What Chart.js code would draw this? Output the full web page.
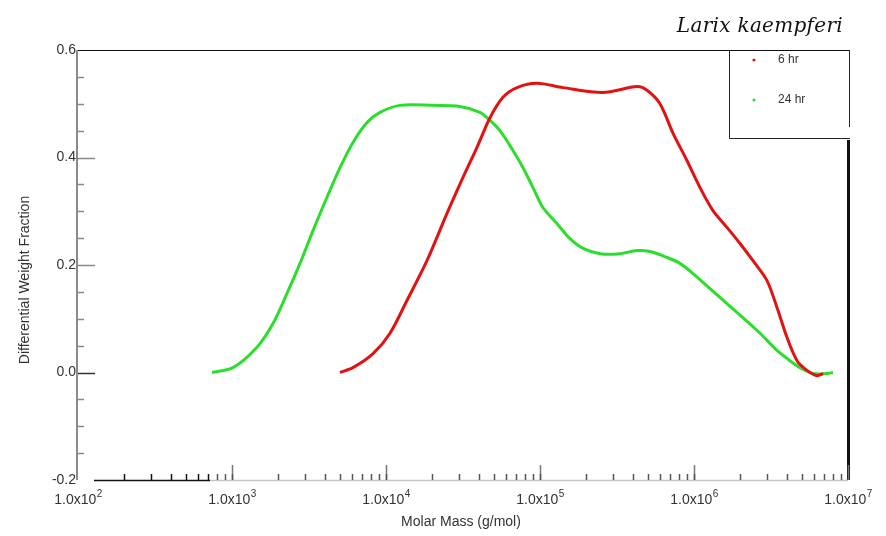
<!DOCTYPE html>
<html>
<head>
<meta charset="utf-8">
<script src="https://cdn.jsdelivr.net/npm/chart.js@4.4.1/dist/chart.umd.min.js"></script>
<style>
  html, body { margin: 0; padding: 0; background: #fff; }
  #wrap { width: 886px; height: 536px; position: relative; }
</style>
</head>
<body>
<div id="wrap"><canvas id="grafico"></canvas></div>
<script>
// molar mass (g/mol) and differential weight fraction
const massa24 = [741, 1015, 1453, 1846, 2275, 2765, 3357, 4140, 5027, 6105, 7530, 9140, 12330, 20200, 30250, 40750, 47350, 54950, 66800, 77600, 90100, 104500, 128900, 156600, 190300, 245400, 330500, 426600, 517600, 668300, 811100, 986100, 1271000, 1637000, 2080000, 2685000, 3459000, 4198000, 4875000, 5929000, 7311000, 8000000];
const fracao24 = [0.0, 0.009, 0.047, 0.091, 0.147, 0.203, 0.264, 0.326, 0.381, 0.428, 0.465, 0.484, 0.497, 0.497, 0.495, 0.484, 0.469, 0.450, 0.413, 0.381, 0.344, 0.307, 0.277, 0.249, 0.231, 0.221, 0.221, 0.227, 0.225, 0.214, 0.203, 0.184, 0.156, 0.128, 0.102, 0.073, 0.041, 0.022, 0.009, -0.002, -0.002, 0.0];

const massa6 = [5027, 6105, 8240, 10620, 13680, 18450, 24890, 31620, 38990, 47350, 57500, 70950, 95700, 141000, 256400, 426600, 495300, 601200, 731100, 901500, 1094000, 1328000, 1637000, 1990000, 2416000, 2979000, 3459000, 4018000, 4667000, 5420000, 6295000, 6887000];
const fracao6 = [0.0, 0.009, 0.035, 0.073, 0.134, 0.208, 0.296, 0.363, 0.419, 0.474, 0.512, 0.530, 0.538, 0.530, 0.521, 0.532, 0.525, 0.500, 0.445, 0.394, 0.344, 0.301, 0.270, 0.240, 0.208, 0.171, 0.121, 0.065, 0.022, 0.004, -0.006, -0.002];

const expoentesX = [2, 3, 4, 5, 6, 7];
const ticksY = [0.6, 0.4, 0.2, 0.0, -0.2];
const legendas = ['6 hr', '24 hr'];
const titulo = 'Larix kaempferi';

const corVermelha = 'rgb(226, 18, 18)';
const corVerde = 'rgb(44, 222, 44)';

function pontos(xs, ys) {
    return xs.map((x, i) => ({ x: x, y: ys[i] }));
}

// ---------- eixos, moldura e legenda desenhados à mão ----------
const moldura = {
    id: 'moldura',
    beforeDatasetsDraw(chart) {
        const { ctx, chartArea: a, scales: { x, y } } = chart;
        ctx.save();

        // topo e direita
        ctx.strokeStyle = '#111';
        ctx.lineWidth = 1;
        ctx.beginPath();
        ctx.moveTo(a.left, a.top + 0.5);
        ctx.lineTo(a.right + 2, a.top + 0.5);
        ctx.moveTo(a.right + 1.5, a.top);
        ctx.lineTo(a.right + 1.5, 127);
        ctx.stroke();
        ctx.lineWidth = 3;
        ctx.beginPath();
        ctx.moveTo(a.right + 0.5, 140);
        ctx.lineTo(a.right + 0.5, a.bottom);
        ctx.stroke();

        // eixo y
        ctx.strokeStyle = '#8a8a8a';
        ctx.lineWidth = 2;
        ctx.beginPath();
        ctx.moveTo(a.left - 1, a.top);
        ctx.lineTo(a.left - 1, a.bottom);
        ctx.stroke();
        ctx.lineWidth = 1.5;
        for (let v = -0.15; v < 0.6; v += 0.05) {
            const py = Math.round(y.getPixelForValue(v)) + 0.5;
            const major = Math.abs(Math.round(v * 100) % 20) === 0;
            ctx.strokeStyle = Math.abs(v) < 0.001 ? '#333' : '#8a8a8a';
            ctx.beginPath();
            ctx.moveTo(a.left, py);
            ctx.lineTo(a.left + (major ? 17 : 6), py);
            ctx.stroke();
        }

        // eixo x
        const yb = a.bottom + 0.5;
        ctx.lineWidth = 1.5;
        ctx.strokeStyle = '#111';
        ctx.beginPath();
        ctx.moveTo(94, yb);
        ctx.lineTo(210, yb);
        ctx.stroke();
        ctx.strokeStyle = '#c4c4c4';
        ctx.beginPath();
        ctx.moveTo(210, yb);
        ctx.lineTo(a.right, yb);
        ctx.stroke();
        ctx.lineWidth = 1.5;
        for (let e = 2; e < 7; e++) {
            for (let m = 1; m <= 10; m++) {
                if (e === 2 && m === 1) continue;
                const px = Math.round(x.getPixelForValue(m * Math.pow(10, e))) + 0.5;
                const major = m === 10;
                ctx.strokeStyle = px < 210 ? '#111' : (major ? '#777' : '#555');
                ctx.beginPath();
                ctx.moveTo(px, a.bottom);
                ctx.lineTo(px, a.bottom - (major ? 15 : 6));
                ctx.stroke();
            }
        }

        // rótulos do eixo y
        ctx.fillStyle = '#333';
        ctx.font = '14px "Liberation Sans", Arial, sans-serif';
        ctx.textAlign = 'right';
        ctx.textBaseline = 'middle';
        ticksY.forEach(v => {
            ctx.fillText(v.toFixed(1), a.left - 2, y.getPixelForValue(v));
        });

        // rótulos do eixo x com expoente
        ctx.textBaseline = 'alphabetic';
        expoentesX.forEach(e => {
            const px = x.getPixelForValue(Math.pow(10, e));
            ctx.font = '14px "Liberation Sans", Arial, sans-serif';
            const base = '1.0x10';
            const wb = ctx.measureText(base).width;
            ctx.font = '10px "Liberation Sans", Arial, sans-serif';
            const sup = String(e);
            const ws = ctx.measureText(sup).width;
            const x0 = px - (wb + ws) / 2;
            ctx.textAlign = 'left';
            ctx.font = '14px "Liberation Sans", Arial, sans-serif';
            ctx.fillText(base, x0, 504);
            ctx.font = '10px "Liberation Sans", Arial, sans-serif';
            ctx.fillText(sup, x0 + wb + 0.5, 497);
        });

        // títulos dos eixos
        ctx.font = '14px "Liberation Sans", Arial, sans-serif';
        ctx.textAlign = 'center';
        ctx.textBaseline = 'middle';
        ctx.fillText('Molar Mass (g/mol)', 461, 522);
        ctx.save();
        ctx.translate(25, 280);
        ctx.rotate(-Math.PI / 2);
        ctx.fillText('Differential Weight Fraction', 0, 0);
        ctx.restore();

        ctx.restore();
    },
    afterDraw(chart) {
        const { ctx, chartArea: a } = chart;
        ctx.save();

        // caixa da legenda
        ctx.fillStyle = '#fff';
        ctx.fillRect(729, a.top + 1, a.right - 729 + 1, 137 - a.top);
        ctx.strokeStyle = '#222';
        ctx.lineWidth = 1;
        ctx.beginPath();
        ctx.moveTo(729.5, a.top);
        ctx.lineTo(729.5, 138.5);
        ctx.lineTo(a.right + 2, 138.5);
        ctx.moveTo(a.right + 1.5, a.top);
        ctx.lineTo(a.right + 1.5, 127);
        ctx.stroke();

        const cores = [corVermelha, corVerde];
        const ys = [60, 100];
        ctx.font = '12px "Liberation Sans", Arial, sans-serif';
        ctx.textAlign = 'left';
        ctx.textBaseline = 'middle';
        legendas.forEach((t, i) => {
            ctx.fillStyle = cores[i];
            ctx.beginPath();
            ctx.arc(754, ys[i], 1.6, 0, Math.PI * 2);
            ctx.fill();
            ctx.fillStyle = '#333';
            ctx.fillText(t, 778, ys[i]);
        });

        // título
        ctx.fillStyle = '#111';
        ctx.font = 'italic 20px "DejaVu Serif", serif';
        ctx.letterSpacing = '0.3px';
        ctx.textAlign = 'right';
        ctx.textBaseline = 'alphabetic';
        ctx.fillText(titulo, 843, 32);

        ctx.restore();
    }
};

const grafico = new Chart(document.getElementById('grafico').getContext('2d'), {
    type: 'line',
    data: {
        datasets: [{
            label: legendas[0],
            data: pontos(massa6, fracao6),
            borderColor: corVermelha,
            borderWidth: 3,
            pointRadius: 0,
            tension: 0.3,
            fill: false
        }, {
            label: legendas[1],
            data: pontos(massa24, fracao24),
            borderColor: corVerde,
            borderWidth: 3,
            pointRadius: 0,
            tension: 0.3,
            fill: false
        }]
    },
    options: {
        responsive: true,
        maintainAspectRatio: false,
        animation: false,
        layout: { padding: { left: 78, right: 38, top: 50, bottom: 56 } },
        plugins: {
            legend: { display: false },
            tooltip: { enabled: false }
        },
        scales: {
            x: { type: 'logarithmic', min: 100, max: 1e7, display: false },
            y: { type: 'linear', min: -0.2, max: 0.6, display: false }
        }
    },
    plugins: [moldura]
});
</script>
</body>
</html>
